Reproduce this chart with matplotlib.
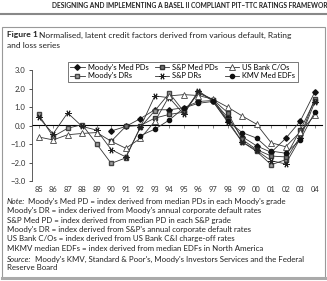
import numpy as np
import matplotlib
matplotlib.use("Agg")
import matplotlib.pyplot as plt
from matplotlib.patches import Rectangle
from matplotlib.lines import Line2D

plt.rcParams['font.family'] = ['Lato', 'DejaVu Sans']

nan = np.nan
years = ['85', '86', '87', '88', '89', '90', '91', '92', '93', '94',
         '95', '96', '97', '98', '99', '00', '01', '02', '03', '04']

moodys_pd = [nan, nan, nan, nan, nan, -0.3, -0.05, 0.37, 0.85, 0.85,
             0.96, 1.3, 1.35, 0.45, -0.6, -1.1, -1.45, -0.7, 0.23, 1.8]
moodys_dr = [0.6, -0.6, -0.15, 0.05, -1.0, -2.05, -1.75, -0.1, 0.8, 1.75,
             0.75, 1.8, 1.4, 0.3, -0.88, -1.4, -2.12, -1.85, -0.6, 1.45]
sp_pd = [nan, nan, nan, nan, nan, -0.85, -0.05, 0.0, 0.4, 0.6,
         0.72, 1.75, 1.4, 0.7, -0.75, -1.3, -1.65, -1.7, -0.25, 1.35]
us_bank = [-0.62, -0.78, -0.5, -0.43, -0.38, -0.85, -1.23, -0.7, 0.22, 1.6,
           1.67, 1.62, 1.42, 1.0, 0.52, 0.07, -0.93, -1.15, -0.35, 0.55]
sp_dr = [0.45, -0.45, 0.68, -0.05, -0.25, -1.3, -1.7, -0.1, 1.6, 1.5,
         0.6, 1.88, 1.3, 0.2, -0.88, -1.35, -1.9, -2.08, -0.7, 1.25]
kmv = [nan, nan, nan, nan, nan, nan, nan, -0.55, -0.2, 0.3,
       0.95, 1.2, 1.3, 0.25, -0.38, -0.68, -1.38, -1.5, -0.78, 0.72]

series = [
    ("Moody's Med PDs", moodys_pd, dict(marker='D', ms=2.8, mfc='#111111', mec='#111111')),
    ("Moody's DRs", moodys_dr, dict(marker='s', ms=3.2, mfc='#a0a0a0', mec='#444444')),
    ("S&P Med PDs", sp_pd, dict(marker='s', ms=3.2, mfc='#777777', mec='#333333')),
    ("S&P DRs", sp_dr, dict(marker=(6, 2, 90), ms=4.5, mfc='none', mec='#222222', mew=0.7)),
    ("US Bank C/Os", us_bank, dict(marker='^', ms=3.8, mfc='white', mec='#444444', mew=0.6)),
    ("KMV Med EDFs", kmv, dict(marker='o', ms=3.0, mfc='#111111', mec='#111111')),
]

notes = [
    "Moody's DR = index derived from Moody's annual corporate default rates",
    "S&P Med PD = index derived from median PD in each S&P grade",
    "Moody's DR = index derived from S&P's annual corporate default rates",
    "US Bank C/Os = index derived from US Bank C&I charge-off rates",
    "MKMV median EDFs = index derived from median EDFs in North America",
]

W, H = 327, 281
fig = plt.figure(figsize=(W / 100, H / 100), dpi=100)
ink = '#222222'

# page header (runs off the right edge, as in the source page) and frame
fig.text(52 / W, 1 - 6 / H,
         "DESIGNING AND IMPLEMENTING A BASEL II COMPLIANT PIT\u2013TTC RATINGS FRAMEWORK",
         fontsize=4.75, fontweight='bold', va='center', ha='left', color=ink)
fig.add_artist(Line2D([0, 1], [1 - 13.5 / H, 1 - 13.5 / H], color='#888888', lw=1.5))
fig.add_artist(Rectangle((1.5 / W, 1 - 278 / H), 323.5 / W, 251 / H, fill=False,
                         ec='#999999', lw=0.8))
fig.add_artist(Line2D([1.5 / W, 325 / W], [1 - 277.5 / H, 1 - 277.5 / H],
                      color='#aaaaaa', lw=2.2))

fig.text(7 / W, 1 - 35 / H, "Figure 1", fontsize=6.1, fontweight='bold',
         va='center', ha='left', color=ink)
fig.text(39 / W, 1 - 35 / H,
         "Normalised, latent credit factors derived from various default, Rating",
         fontsize=6.0, va='center', ha='left', color=ink)
fig.text(7 / W, 1 - 45 / H, "and loss series", fontsize=6.0, va='center', ha='left',
         color=ink)

ax = fig.add_axes([32 / W, 1 - 181 / H, 290 / W, 111 / H])
x = np.arange(len(years))
for label, vals, style in series:
    ax.plot(x, vals, color='#333333', lw=0.6, label=label, **style)

ax.set_xlim(-0.45, len(years) - 0.5)
ax.set_ylim(-3, 3)
ax.set_yticks(np.arange(-3, 4))
ax.set_yticklabels([f"{v:.1f}".replace('-', '\u2212') for v in np.arange(-3, 4)])
ax.tick_params(axis='y', length=2.5, width=0.6, labelsize=5.6, pad=2, colors='#333333')
ax.set_xticks(x)
ax.set_xticklabels(years)
ax.tick_params(axis='x', length=0, labelsize=5.4, pad=3.5, colors='#333333')
for s in ['top', 'right', 'bottom']:
    ax.spines[s].set_visible(False)
ax.spines['left'].set_linewidth(0.6)
ax.spines['left'].set_color('#444444')

# zero line with small ticks
zero = ax.secondary_xaxis(0.5)
zero.set_xticks(x)
zero.set_xticklabels([])
zero.tick_params(direction='in', length=1.8, width=0.5, colors='#555555')
zero.spines['bottom'].set_linewidth(0.6)
zero.spines['bottom'].set_color('#555555')

fig.legend(loc='upper left', bbox_to_anchor=(68 / W, 1 - 61.5 / H), ncol=3,
           fontsize=5.4, frameon=True, fancybox=False, edgecolor='#444444',
           framealpha=1, handlelength=1.9, handletextpad=0.4, columnspacing=0.9,
           borderpad=0.3, labelspacing=0.2, borderaxespad=0)
fig.legends[0].get_frame().set_linewidth(0.5)

# notes
fs = 5.7
y0 = 201.7
dy = 9.3
fig.text(7 / W, 1 - y0 / H, "Note:", fontsize=fs, style='italic', va='center', color=ink)
fig.text(28 / W, 1 - y0 / H, "Moody's Med PD = index derived from median PDs in each Moody's grade",
         fontsize=fs, va='center', color=ink)
for i, line in enumerate(notes):
    fig.text(7 / W, 1 - (y0 + dy * (i + 1)) / H, line, fontsize=fs, va='center', color=ink)
ys = y0 + dy * 6 + 1.5
fig.text(7 / W, 1 - ys / H, "Source:", fontsize=fs, style='italic', va='center', color=ink)
fig.text(35 / W, 1 - ys / H,
         "Moody's KMV, Standard & Poor's, Moody's Investors Services and the Federal",
         fontsize=fs, va='center', color=ink)
fig.text(7 / W, 1 - (ys + 9) / H, "Reserve Board", fontsize=fs, va='center', color=ink)

fig.savefig("out.png", dpi=100)
